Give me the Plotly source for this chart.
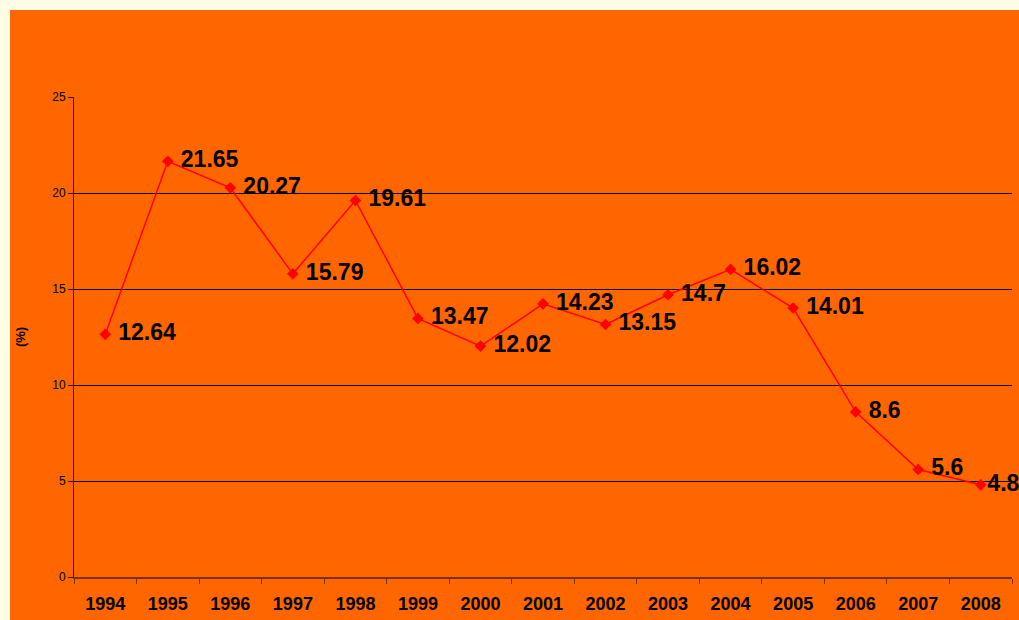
import plotly.graph_objects as go

years = ["1994", "1995", "1996", "1997", "1998", "1999", "2000", "2001",
         "2002", "2003", "2004", "2005", "2006", "2007", "2008"]
values = [12.64, 21.65, 20.27, 15.79, 19.61, 13.47, 12.02, 14.23,
          13.15, 14.7, 16.02, 14.01, 8.6, 5.6, 4.8]
labels = [f" {v:g}" for v in values[:-1]] + [f"{values[-1]:g}"]
y_ticks = [0, 5, 10, 15, 20, 25]

fig = go.Figure()
fig.add_trace(go.Scatter(
    x=years, y=values, mode="lines+markers+text",
    text=labels, textposition="middle right",
    textfont=dict(family="Liberation Sans, Arial", size=23, color="black", weight="bold"),
    line=dict(color="#FF0000", width=1.5),
    marker=dict(symbol="diamond", size=9, color="#FF0000"),
    cliponaxis=False, showlegend=False, hoverinfo="skip",
))

fig.add_shape(type="rect", xref="paper", yref="paper",
              x0=-0.0682, x1=1.01, y0=-0.095, y1=1.18125,
              fillcolor="#FF6600", line=dict(width=0), layer="below")

fig.update_layout(
    width=1019, height=620,
    margin=dict(l=74, r=7, t=97, b=43),
    paper_bgcolor="#FFFDE6", plot_bgcolor="#FF6600",
    font=dict(family="Liberation Sans, Arial", color="black"),
    xaxis=dict(type="category", range=[-0.5, 14.5], showgrid=False,
               showline=True, linecolor="#7A3300", linewidth=1.5,
               ticks="outside", tickson="boundaries", ticklen=5, tickcolor="#7A3300",
               tickfont=dict(size=18, weight="bold", color="black"),
               ticklabelstandoff=10),
    yaxis=dict(range=[0, 25], tickvals=y_ticks, showgrid=True, gridcolor="black",
               gridwidth=1, zeroline=False, showline=True, linecolor="#3A1800",
               linewidth=1, ticks="outside", ticklen=5, tickcolor="#3A1800",
               tickfont=dict(size=12, color="black"),
               title=dict(text="(%)", font=dict(size=13, weight="bold"), standoff=23)),
)

fig.write_html("out.html",
               config={"displayModeBar": False},
               post_script="document.body.style.margin='0';"
                           "document.body.style.overflow='hidden';"
                           "document.body.style.background='#FFFDE6';")
